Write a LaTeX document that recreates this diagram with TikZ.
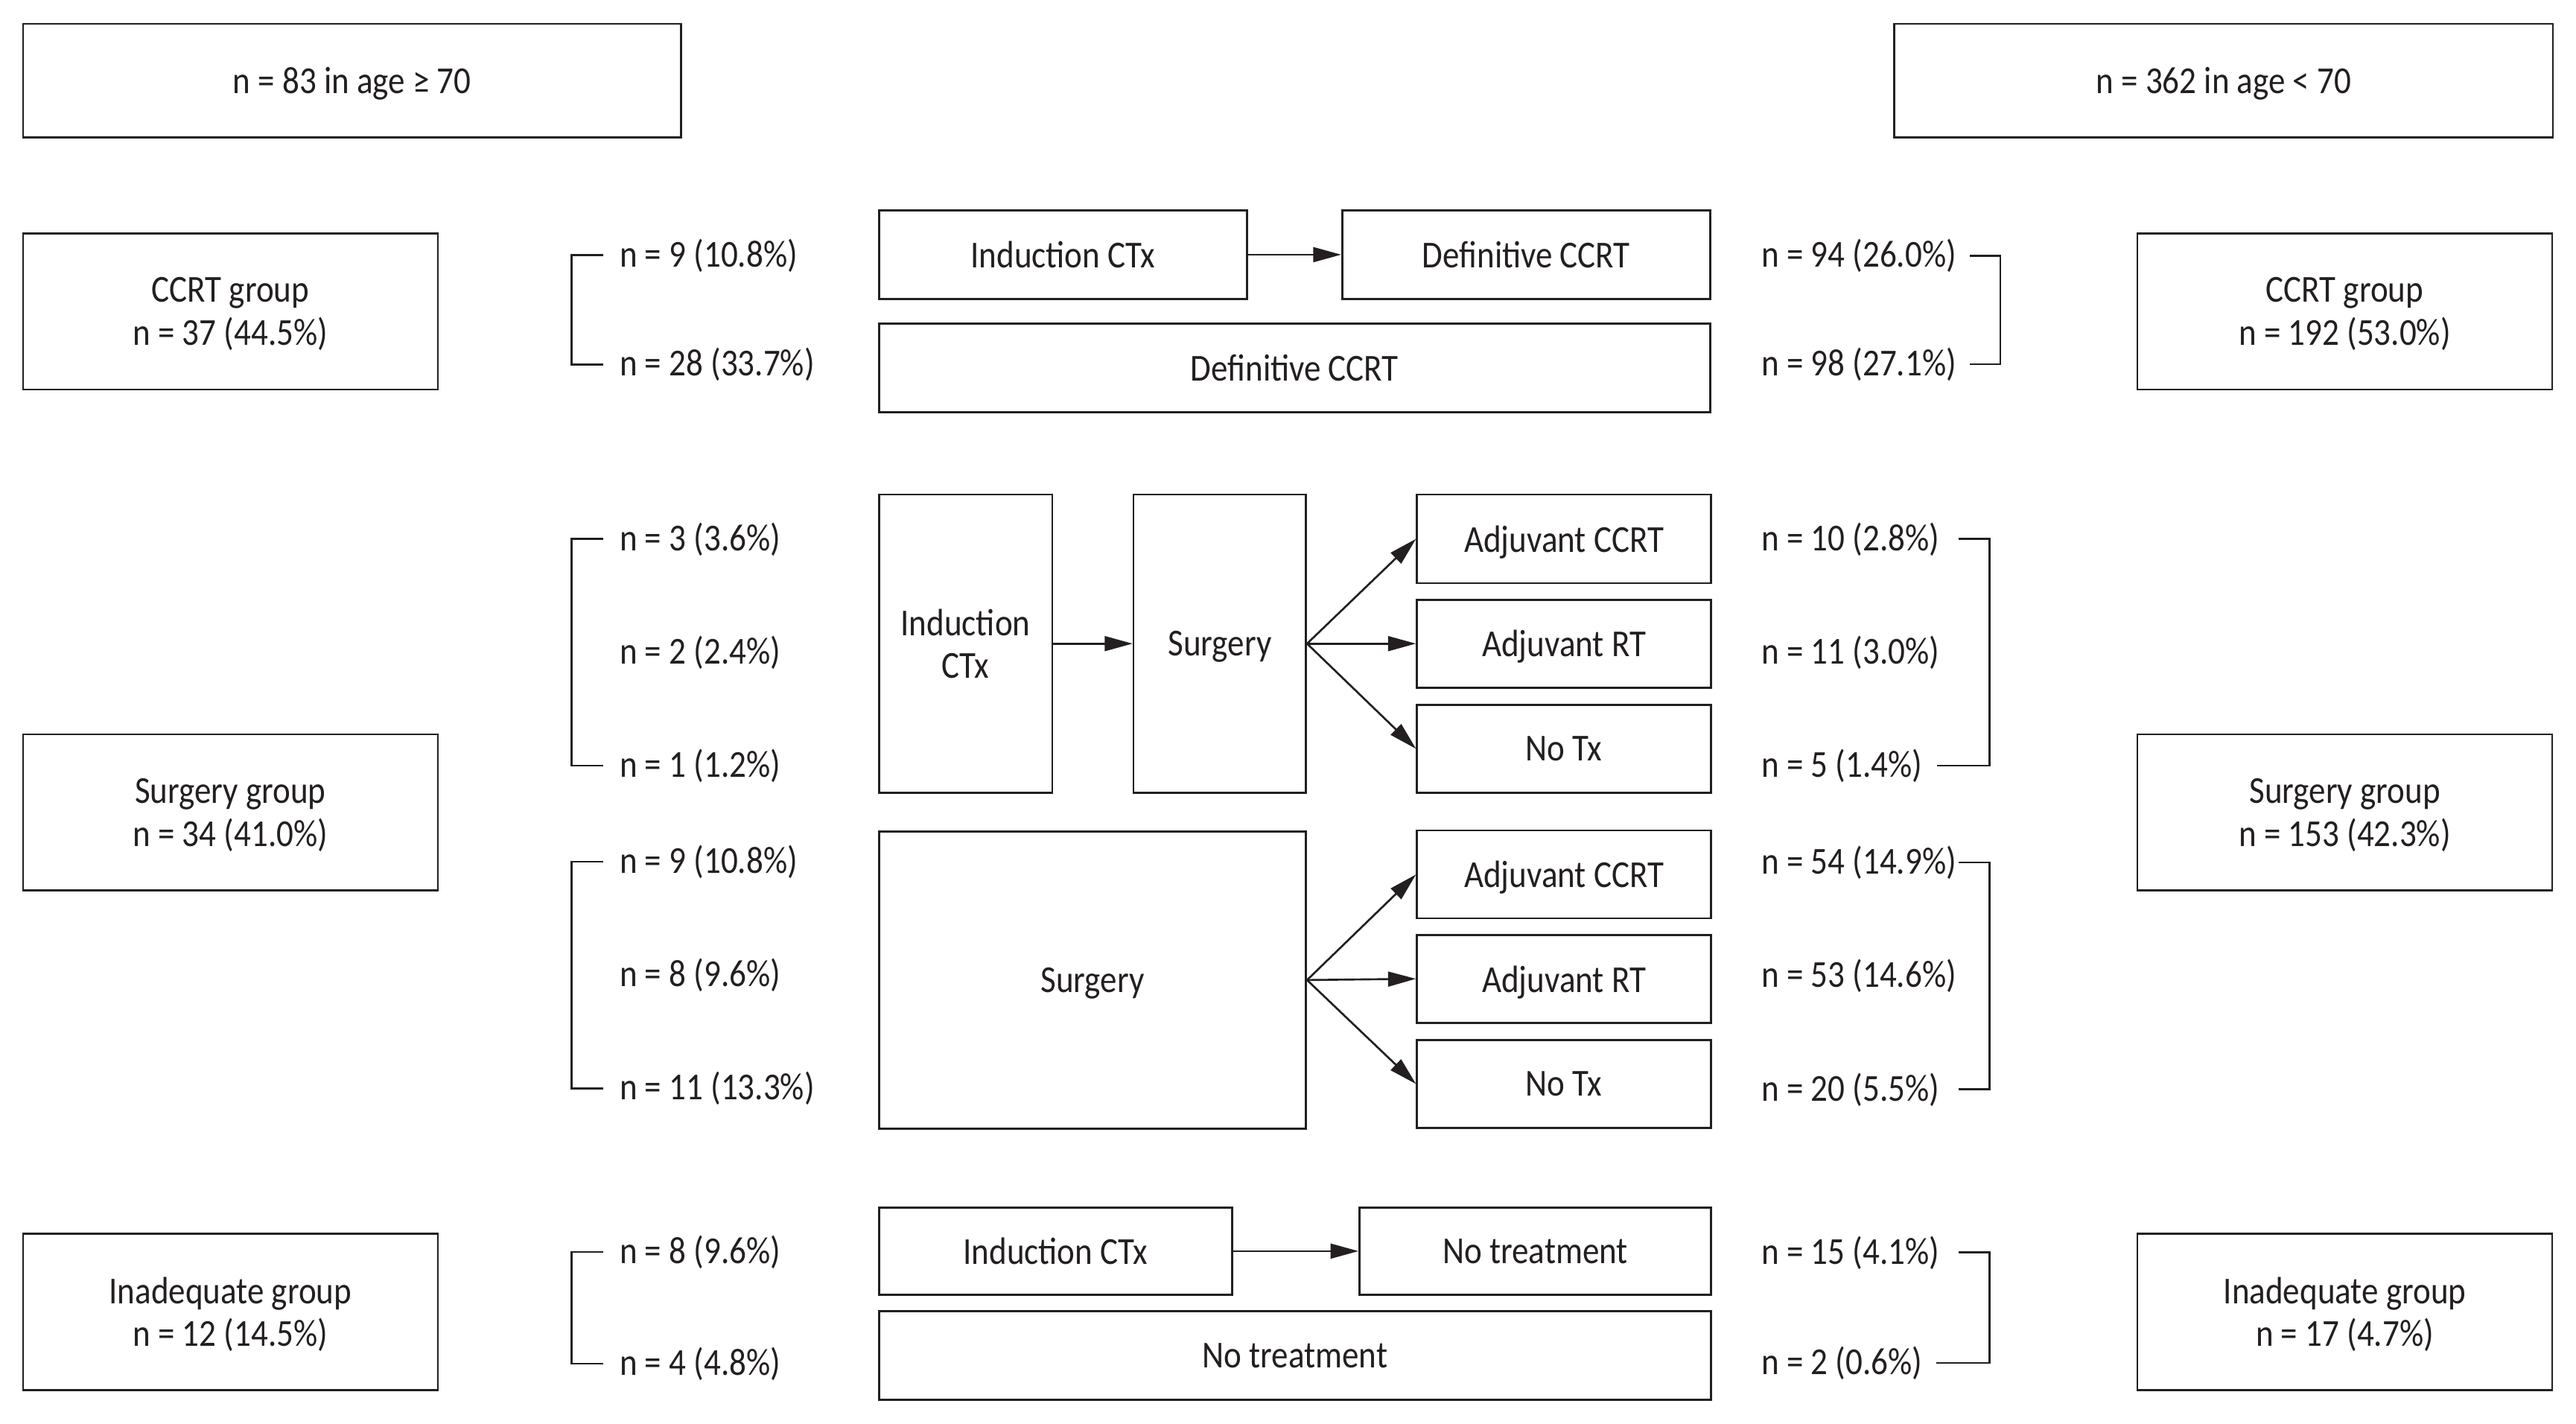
\documentclass[tikz,border=0pt]{standalone}
\usepackage{fontspec}
\setmainfont{Carlito}[FakeStretch=0.88]
\usetikzlibrary{arrows.meta}
\definecolor{ink}{RGB}{35,31,32}
\newcommand\dfont{\fontsize{23.2bp}{26bp}\selectfont}
\tikzset{
  box/.style={draw=ink, line width=1.2bp, inner sep=0pt, align=center, text=ink, font=\dfont, text depth=0pt},
  grp/.style={box, minimum width=252.5bp, minimum height=95bp, text depth=-4bp},
  lbl/.style={inner sep=0pt, text=ink, font=\dfont, anchor=base west},
  arr/.style={draw=ink, line width=1.2bp, -{Triangle[length=17bp,width=9bp]}},
  brk/.style={draw=ink, line width=1.2bp, line cap=butt, line join=miter},
}
\begin{document}
\begin{tikzpicture}[x=1bp,y=-1bp]
\useasboundingbox (0,0) rectangle (1568,866.7);
% top boxes
\node[box, minimum width=400.5bp, minimum height=69bp] (topL) at (214.25,49) {n = 83 in age ≥ 70};
\node[box, minimum width=401bp, minimum height=69bp] (topR) at (1353.5,49) {n = 362 in age < 70};
% group boxes left
\node[grp] (Lccrt) at (140.25,189.5) {CCRT group\\n = 37 (44.5\%)};
\node[grp] (Lsurg) at (140.25,494.5) {Surgery group\\n = 34 (41.0\%)};
\node[grp] (Linad) at (140.25,798.5) {Inadequate group\\n = 12 (14.5\%)};
% group boxes right
\node[grp] (Rccrt) at (1427.25,189.5) {CCRT group\\n = 192 (53.0\%)};
\node[grp] (Rsurg) at (1427.25,494.5) {Surgery group\\n = 153 (42.3\%)};
\node[grp] (Rinad) at (1427.25,798.5) {Inadequate group\\n = 17 (4.7\%)};
% CCRT rows
\node[box, minimum width=224bp, minimum height=54bp] (c1a) at (647,155) {Induction CTx};
\node[box, minimum width=224bp, minimum height=54bp] (c1b) at (929,155) {Definitive CCRT};
\node[box, minimum width=506bp, minimum height=54bp] (c2) at (788,224) {Definitive CCRT};
\draw[arr] (c1a.east) -- (c1b.west);
% surgery block 1
\node[box, minimum width=105.5bp, minimum height=181.5bp] (s1a) at (587.75,391.75) {Induction\\CTx};
\node[box, minimum width=105bp, minimum height=181.5bp] (s1b) at (742.5,391.75) {Surgery};
\node[box, minimum width=179bp, minimum height=54bp] (s1c) at (952,328) {Adjuvant CCRT};
\node[box, minimum width=179bp, minimum height=53.5bp] (s1d) at (952,391.75) {Adjuvant RT};
\node[box, minimum width=179bp, minimum height=53.5bp] (s1e) at (952,455.75) {No Tx};
\draw[arr] (s1a.east) -- (s1b.west);
\draw[arr] (s1b.east) -- (s1c.west);
\draw[arr] (s1b.east) -- (s1d.west);
\draw[arr] (s1b.east) -- (s1e.west);
% surgery block 2
\node[box, minimum width=260bp, minimum height=181bp] (s2a) at (665,596.5) {Surgery};
\node[box, minimum width=179bp, minimum height=53.5bp] (s2c) at (952,532.25) {Adjuvant CCRT};
\node[box, minimum width=179bp, minimum height=53.5bp] (s2d) at (952,595.75) {Adjuvant RT};
\node[box, minimum width=179bp, minimum height=53.5bp] (s2e) at (952,659.75) {No Tx};
\draw[arr] (s2a.east) -- (s2c.west);
\draw[arr] (s2a.east) -- (s2d.west);
\draw[arr] (s2a.east) -- (s2e.west);
% inadequate
\node[box, minimum width=215bp, minimum height=53bp] (i1a) at (642.5,761.5) {Induction CTx};
\node[box, minimum width=214bp, minimum height=53bp] (i1b) at (934.5,761.5) {No treatment};
\node[box, minimum width=506.5bp, minimum height=54bp] (i2) at (788.25,825) {No treatment};
\draw[arr] (i1a.east) -- (i1b.west);
% left labels
\node[lbl] (la1) at (377,162.3) {n = 9 (10.8\%)};
\node[lbl] (la2) at (377,228.8) {n = 28 (33.7\%)};
\node[lbl] (lb1) at (377,335) {n = 3 (3.6\%)};
\node[lbl] (lb2) at (377,404) {n = 2 (2.4\%)};
\node[lbl] (lb3) at (377,473) {n = 1 (1.2\%)};
\node[lbl] (lc1) at (377,531.5) {n = 9 (10.8\%)};
\node[lbl] (lc2) at (377,600.5) {n = 8 (9.6\%)};
\node[lbl] (lc3) at (377,669.5) {n = 11 (13.3\%)};
\node[lbl] (ld1) at (377,769) {n = 8 (9.6\%)};
\node[lbl] (ld2) at (377,837) {n = 4 (4.8\%)};
% right labels
\node[lbl] (ra1) at (1072,162.6) {n = 94 (26.0\%)};
\node[lbl] (ra2) at (1072,228.6) {n = 98 (27.1\%)};
\node[lbl] (rb1) at (1072,335) {n = 10 (2.8\%)};
\node[lbl] (rb2) at (1072,404) {n = 11 (3.0\%)};
\node[lbl] (rb3) at (1072,473) {n = 5 (1.4\%)};
\node[lbl] (rc1) at (1072,532) {n = 54 (14.9\%)};
\node[lbl] (rc2) at (1072,601) {n = 53 (14.6\%)};
\node[lbl] (rc3) at (1072,670) {n = 20 (5.5\%)};
\node[lbl] (rd1) at (1072,769.3) {n = 15 (4.1\%)};
\node[lbl] (rd2) at (1072,836.6) {n = 2 (0.6\%)};
% left brackets
\coordinate (lA1) at (367,155.3); \coordinate (lA2) at (367,221.8);
\coordinate (lB1) at (367,328); \coordinate (lB2) at (367,466);
\coordinate (lC1) at (367,524.5); \coordinate (lC2) at (367,662.5);
\coordinate (lD1) at (367,762); \coordinate (lD2) at (367,830);
\draw[brk] (lA1) -- ++(-19,0) |- (lA2);
\draw[brk] (lB1) -- ++(-19,0) |- (lB2);
\draw[brk] (lC1) -- ++(-19,0) |- (lC2);
\draw[brk] (lD1) -- ++(-19,0) |- (lD2);
% right brackets
\coordinate (rA1) at (1199,155.6); \coordinate (rA2) at (1199,221.6);
\draw[brk] (rA1) -- ++(18.5,0) |- (rA2);
\coordinate (rB1) at (1192,328); \coordinate (rB2) at (1179,466);
\draw[brk] (rB1) -- (1211,328) -- (1211,466) -- (rB2);
\coordinate (rC1) at (1192,525); \coordinate (rC2) at (1192,663);
\draw[brk] (rC1) -- ++(19,0) |- (rC2);
\coordinate (rD1) at (1192,762.3); \coordinate (rD2) at (1178.6,829.6);
\draw[brk] (rD1) -- (1211,762.3) -- (1211,829.6) -- (rD2);
\end{tikzpicture}
\end{document}
